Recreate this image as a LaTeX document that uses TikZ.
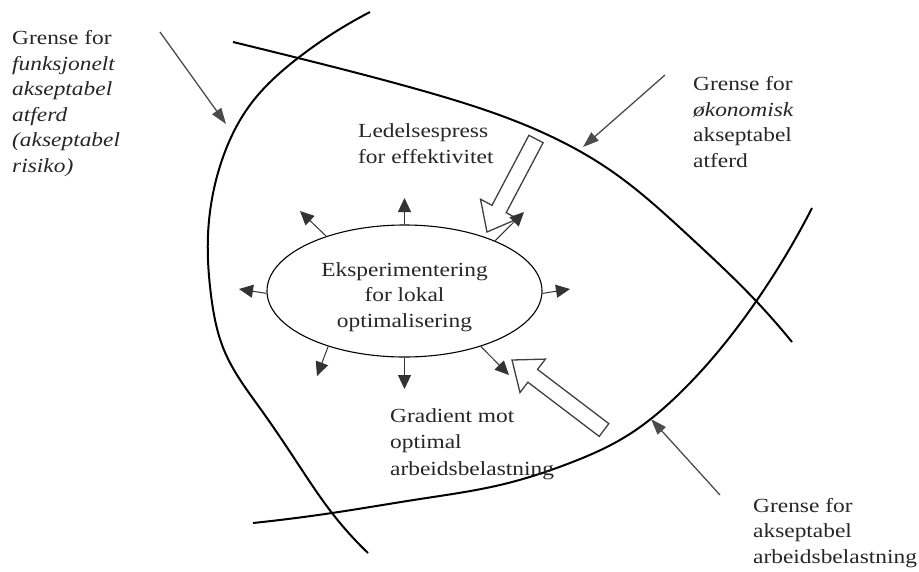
\documentclass[tikz,border=0pt]{standalone}
\usepackage{fontspec}
\setmainfont{Liberation Serif}[FakeStretch=1.17]
\usetikzlibrary{arrows.meta,shapes.geometric,hobby}
\begin{document}
\begin{tikzpicture}[x=1pt,y=-1pt,
  bound/.style={line width=2pt, black, use Hobby shortcut},
  thinarrow/.style={line width=1.3pt, draw=black!70, -{Triangle[length=16pt,width=11pt]}},
  ray/.style={line width=1pt, draw=black!80, -{Triangle[length=14pt,width=13pt]}},
  block/.style={draw=black!75, line width=1.3pt, fill=white, line join=miter},
  txt/.style={inner sep=0pt, anchor=base west, align=left, font=\fontsize{20}{25.5}\selectfont, text=black!85},
]
\useasboundingbox (0,0) rectangle (919,571);

% boundary curves
\draw[bound] (370,12) .. (298,58) .. (250,105) .. (222,160) .. (208,235) .. (211,295) .. (224,350) .. (262,411) .. (300,467) .. (332,513) .. (368,553);
\draw[bound] (233,42) .. (298,58) .. (420,90) .. (530,127) .. (610,170) .. (690,237) .. (757,302) .. (792,342);
\draw[bound] (253,523) .. (332,513) .. (420,499) .. (500,485) .. (570,463) .. (625,437) .. (680,393) .. (755,303) .. (812,208);

% thin arrows to boundaries
\coordinate (sL) at (160,32);  \coordinate (tL) at (226,124);
\coordinate (sR) at (665,75);  \coordinate (tR) at (583,147);
\coordinate (sB) at (720,495); \coordinate (tB) at (651,419);
\draw[thinarrow] (sL) -- (tL);
\draw[thinarrow] (sR) -- (tR);
\draw[thinarrow] (sB) -- (tB);

% block arrows
\draw[block] (487,232) -- (480.5,199.2) -- (492.0,205.3) -- (528.9,135.3) -- (543.1,142.7) -- (506.2,212.7) -- (517.7,218.8) -- cycle;
\draw[block] (512,360) -- (545.4,359.1) -- (537.5,369.4) -- (608.8,423.6) -- (599.2,436.4) -- (527.9,382.2) -- (520.0,392.5) -- cycle;

% ellipse
\node[draw, ellipse, line width=1.1pt, minimum width=275pt, minimum height=132pt, inner sep=0pt] (E) at (404.5,291) {};
\node[txt, anchor=base, align=center] (Et) at (404.5,327) {Eksperimentering\\for lokal\\optimalisering};

% rays from ellipse
\coordinate (r1) at (404.5,198);
\coordinate (r2) at (404.5,389);
\coordinate (r3) at (239,289);
\coordinate (r4) at (570,289);
\coordinate (r5) at (300,211);
\coordinate (r6) at (524,212);
\coordinate (r7) at (317,376);
\coordinate (r8) at (509,375);
\draw[ray] (E.90) -- (r1);
\draw[ray] (E.270) -- (r2);
\draw[ray] (E.181) -- (r3);
\draw[ray] (E.359) -- (r4);
\draw[ray] (E.145) -- (r5);
\draw[ray] (E.29) -- (r6);
\draw[ray] (E.216) -- (r7);
\draw[ray] (E.324) -- (r8);

% labels (anchored at the baseline of the last line)
\node[txt] (lt) at (12,172) {Grense for\\\textit{funksjonelt}\\\textit{akseptabel}\\\textit{atferd}\\\textit{(akseptabel}\\\textit{risiko)}};
\node[txt] (rt) at (693,167) {Grense for\\\textit{økonomisk}\\akseptabel\\atferd};
\node[txt] (br) at (753,563) {Grense for\\akseptabel\\arbeidsbelastning};
\node[txt] (led) at (358,163) {Ledelsespress\\for effektivitet};
\node[txt, font=\fontsize{20}{26.5}\selectfont] (grad) at (390,475) {Gradient mot\\optimal\\arbeidsbelastning};
\end{tikzpicture}
\end{document}
